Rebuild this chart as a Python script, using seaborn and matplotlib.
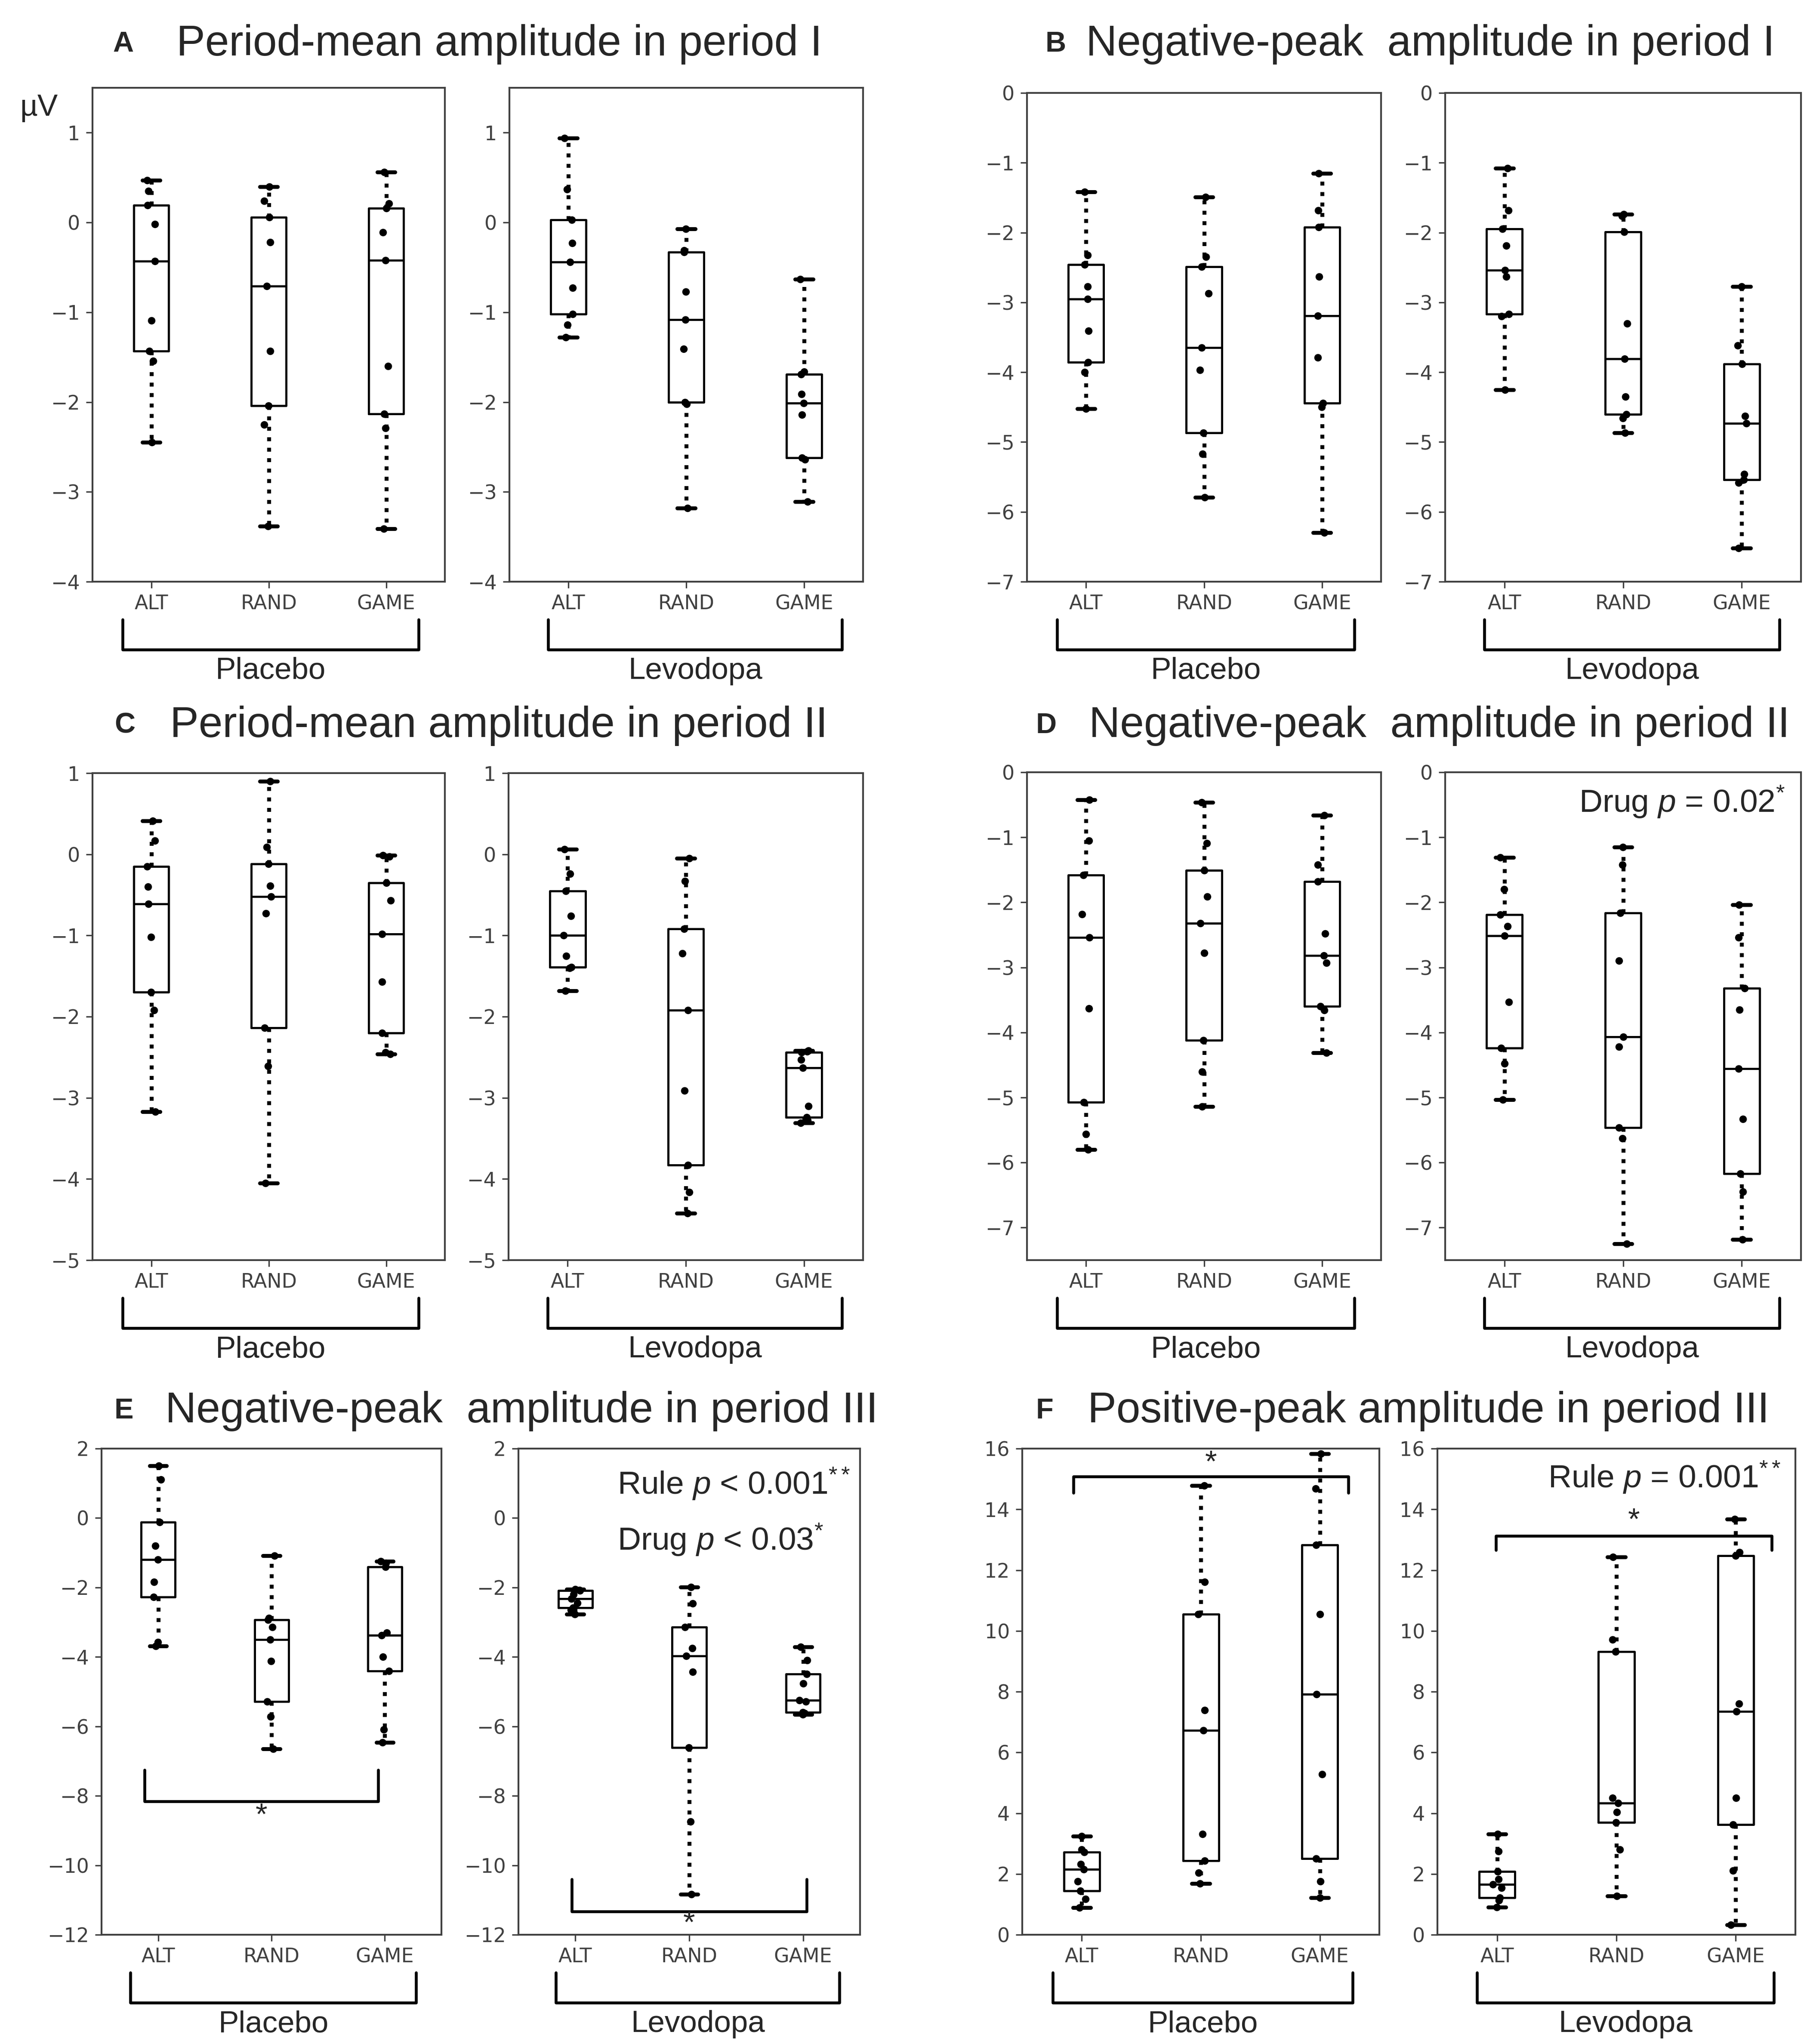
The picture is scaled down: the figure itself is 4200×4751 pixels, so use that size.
import matplotlib
matplotlib.use("Agg")
import matplotlib.pyplot as plt
import seaborn as sns
import pandas as pd
import numpy as np

sns.set_style("ticks")
plt.rcParams["font.family"] = ["DejaVu Sans"]
plt.rcParams["mathtext.fontset"] = "custom"
plt.rcParams["mathtext.rm"] = "Liberation Sans"
plt.rcParams["mathtext.it"] = "Liberation Sans:italic"
plt.rcParams["axes.edgecolor"] = "0.25"
plt.rcParams["xtick.color"] = "0.25"
plt.rcParams["ytick.color"] = "0.25"

# условия и группы
rules = ["ALT", "RAND", "GAME"]
drugs = ["Placebo", "Levodopa"]

# значения (µV) по панелям: [ALT, RAND, GAME]
A_placebo = [[-2.45, -1.54, -1.43, -1.09, -0.43, -0.02, 0.19, 0.35, 0.47],
             [-3.38, -2.25, -2.04, -1.43, -0.71, -0.22, 0.06, 0.24, 0.40],
             [-3.41, -2.29, -2.13, -1.60, -0.42, -0.11, 0.16, 0.21, 0.56]]
A_levodopa = [[-1.28, -1.14, -1.02, -0.73, -0.44, -0.23, 0.03, 0.37, 0.94],
              [-3.18, -2.02, -2.00, -1.41, -1.08, -0.77, -0.33, -0.31, -0.07],
              [-3.11, -2.64, -2.62, -2.14, -2.01, -1.91, -1.69, -1.66, -0.63]]

B_placebo = [[-4.52, -4.00, -3.86, -3.41, -2.95, -2.77, -2.46, -2.32, -1.42],
             [-5.79, -5.17, -4.87, -3.97, -3.65, -2.87, -2.49, -2.35, -1.49],
             [-6.30, -4.50, -4.44, -3.79, -3.19, -2.63, -1.92, -1.68, -1.15]]
B_levodopa = [[-4.25, -3.20, -3.17, -2.63, -2.54, -2.19, -1.95, -1.68, -1.08],
              [-4.87, -4.66, -4.60, -4.35, -3.81, -3.30, -1.99, -1.76, -1.74],
              [-6.52, -5.58, -5.54, -5.46, -4.73, -4.63, -3.88, -3.62, -2.77]]

C_placebo = [[-3.17, -1.92, -1.70, -1.02, -0.61, -0.40, -0.15, 0.17, 0.41],
             [-4.05, -2.61, -2.14, -0.73, -0.52, -0.39, -0.12, 0.09, 0.90],
             [-2.46, -2.44, -2.20, -1.57, -0.98, -0.57, -0.35, -0.03, -0.01]]
C_levodopa = [[-1.68, -1.40, -1.39, -1.25, -1.00, -0.76, -0.45, -0.24, 0.06],
              [-4.42, -4.16, -3.83, -2.91, -1.92, -1.22, -0.92, -0.33, -0.05],
              [-3.31, -3.28, -3.24, -3.10, -2.63, -2.53, -2.44, -2.43, -2.42]]

D_placebo = [[-5.80, -5.56, -5.07, -3.63, -2.54, -2.18, -1.58, -1.05, -0.42],
             [-5.14, -4.60, -4.12, -2.78, -2.32, -1.91, -1.51, -1.09, -0.46],
             [-4.31, -3.66, -3.60, -2.93, -2.82, -2.48, -1.68, -1.42, -0.66]]
D_levodopa = [[-5.03, -4.48, -4.24, -3.53, -2.51, -2.37, -2.19, -1.80, -1.31],
              [-7.25, -5.63, -5.46, -4.22, -4.07, -2.90, -2.16, -1.42, -1.15],
              [-7.18, -6.45, -6.17, -5.33, -4.56, -3.65, -3.32, -2.54, -2.04]]

E_placebo = [[-3.69, -3.57, -2.27, -1.84, -1.20, -0.80, -0.12, 1.11, 1.51],
             [-6.65, -5.72, -5.29, -4.12, -3.50, -3.14, -2.93, -2.88, -1.08],
             [-6.46, -6.09, -4.40, -4.00, -3.38, -3.30, -1.41, -1.29, -1.25]]
E_levodopa = [[-2.77, -2.65, -2.58, -2.45, -2.33, -2.20, -2.09, -2.07, -2.05],
              [-10.83, -8.74, -6.61, -4.43, -3.97, -3.75, -3.14, -2.46, -1.99],
              [-5.66, -5.62, -5.60, -5.29, -5.25, -4.77, -4.49, -4.10, -3.71]]

F_placebo = [[0.89, 1.17, 1.45, 1.76, 2.15, 2.32, 2.72, 2.81, 3.24],
             [1.69, 2.04, 2.43, 3.31, 6.73, 7.39, 10.55, 11.61, 14.78],
             [1.22, 1.76, 2.50, 5.28, 7.92, 10.55, 12.83, 14.68, 15.83]]
F_levodopa = [[0.91, 1.13, 1.22, 1.55, 1.65, 1.83, 2.08, 2.74, 3.31],
              [1.27, 2.81, 3.70, 4.04, 4.33, 4.50, 9.32, 9.71, 12.43],
              [0.32, 2.11, 3.62, 4.50, 7.35, 7.60, 12.48, 12.59, 13.68]]

# заголовки панелей
panel_letters = ["A", "B", "C", "D", "E", "F"]
panel_titles = ["Period-mean amplitude in period I",
                "Negative-peak  amplitude in period I",
                "Period-mean amplitude in period II",
                "Negative-peak  amplitude in period II",
                "Negative-peak  amplitude in period III",
                "Positive-peak amplitude in period III"]

W, H = 4200, 4751
fig = plt.figure(figsize=(W / 300, H / 300), dpi=300)


def box(x0, x1, y0, y1):
    # пиксели -> доли фигуры
    return [x0 / W, 1 - y1 / H, (x1 - x0) / W, (y1 - y0) / H]


def draw(ax, groups, ylim, yticks):
    df = pd.DataFrame({
        "rule": np.repeat(rules, [len(g) for g in groups]),
        "amp": np.concatenate(groups)
    })
    sns.boxplot(data=df, x="rule", y="amp", order=rules, width=0.3,
                whis=(0, 100), fill=False, color="black", linewidth=1.2,
                showfliers=False,
                whiskerprops=dict(linestyle=":", linewidth=2.2),
                capprops=dict(linewidth=2.2),
                ax=ax)
    sns.stripplot(data=df, x="rule", y="amp", order=rules, color="black",
                  size=4.2, jitter=0.04, ax=ax)
    ax.set_xlim(-0.5, 2.5)
    ax.set_ylim(*ylim)
    ax.set_yticks(yticks)
    ax.set_xlabel("")
    ax.set_ylabel("")
    ax.tick_params(labelsize=11, length=3.5, width=0.8)
    for s in ax.spines.values():
        s.set_linewidth(1.0)


def group_bracket(ax, label, x0, x1, height_px):
    y_top = -88 / height_px
    y_bot = -158 / height_px
    ax.plot([x0, x0, x1, x1], [y_top, y_bot, y_bot, y_top], color="black",
            lw=1.6, transform=ax.transAxes, clip_on=False)
    ax.text((x0 + x1) / 2, -208 / height_px, label, transform=ax.transAxes,
            ha="center", va="center", fontsize=17, family="Liberation Sans")


def sig_bracket(ax, x0, x1, y_end, y_bar, y_star):
    ax.plot([x0, x0, x1, x1], [y_end, y_bar, y_bar, y_end], color="black",
            lw=1.6, clip_on=False)
    ax.text((x0 + x1) / 2, y_star, "*", ha="center", va="center",
            fontsize=17, family="Liberation Sans")


panels = [
    (A_placebo, A_levodopa, (-4, 1.5), np.arange(-4, 2, 1),
     (215, 1034, 1184, 2006, 204, 1352)),
    (B_placebo, B_levodopa, (-7, 0), np.arange(-7, 1, 1),
     (2387, 3210, 3359, 4186, 216, 1352)),
    (C_placebo, C_levodopa, (-5, 1), np.arange(-5, 2, 1),
     (215, 1034, 1182, 2006, 1797, 2929)),
    (D_placebo, D_levodopa, (-7.5, 0), np.arange(-7, 1, 1),
     (2387, 3210, 3359, 4186, 1795, 2929)),
    (E_placebo, E_levodopa, (-12, 2), np.arange(-12, 3, 2),
     (236, 1026, 1205, 1999, 3367, 4497)),
    (F_placebo, F_levodopa, (0, 16), np.arange(0, 17, 2),
     (2376, 3206, 3341, 4173, 3367, 4497)),
]

title_pos = [(262, 410, 103), (2430, 2524, 103), (266, 395, 1687),
             (2407, 2531, 1687), (266, 384, 3280), (2407, 2528, 3280)]

np.random.seed(3)
axes = []
for i, (plac, levo, ylim, yticks, pos) in enumerate(panels):
    lx0, lx1, rx0, rx1, y0, y1 = pos
    ax_l = fig.add_axes(box(lx0, lx1, y0, y1))
    ax_r = fig.add_axes(box(rx0, rx1, y0, y1))
    draw(ax_l, plac, ylim, yticks)
    draw(ax_r, levo, ylim, yticks)
    hpx = y1 - y0
    group_bracket(ax_l, drugs[0], 0.085, 0.925, hpx)
    group_bracket(ax_r, drugs[1], 0.11, 0.94, hpx)
    axes.append((ax_l, ax_r))

    lx, tx, ty = title_pos[i]
    fig.text(lx / W, 1 - ty / H, panel_letters[i], fontsize=16,
             fontweight="bold", family="Liberation Sans", va="center")
    fig.text(tx / W, 1 - ty / H, panel_titles[i], fontsize=24,
             family="Liberation Sans", va="center")

fig.text(90 / W, 1 - 251 / H, "µV", fontsize=17, family="Liberation Sans",
         ha="center", va="center")

# статистика
ann = dict(fontsize=18, family="Liberation Sans", va="center")
axes[3][1].text(0.955, 0.939, "Drug $p$ = 0.02$^{*}$", ha="right",
                transform=axes[3][1].transAxes, **ann)
axes[4][1].text(0.29, 0.928, "Rule $p$ < 0.001$^{**}$", ha="left",
                transform=axes[4][1].transAxes, **ann)
axes[4][1].text(0.29, 0.813, "Drug $p$ < 0.03$^{*}$", ha="left",
                transform=axes[4][1].transAxes, **ann)
axes[5][1].text(0.96, 0.941, "Rule $p$ = 0.001$^{**}$", ha="right",
                transform=axes[5][1].transAxes, **ann)

sig_bracket(axes[4][0], -0.12, 1.94, -7.26, -8.16, -8.6)
sig_bracket(axes[4][1], -0.03, 2.03, -10.4, -11.33, -11.7)
sig_bracket(axes[5][0], -0.07, 2.24, 14.54, 15.08, 15.5)
sig_bracket(axes[5][1], -0.01, 2.30, 12.66, 13.13, 13.6)

fig.savefig("out.png", dpi=300, facecolor="white")
